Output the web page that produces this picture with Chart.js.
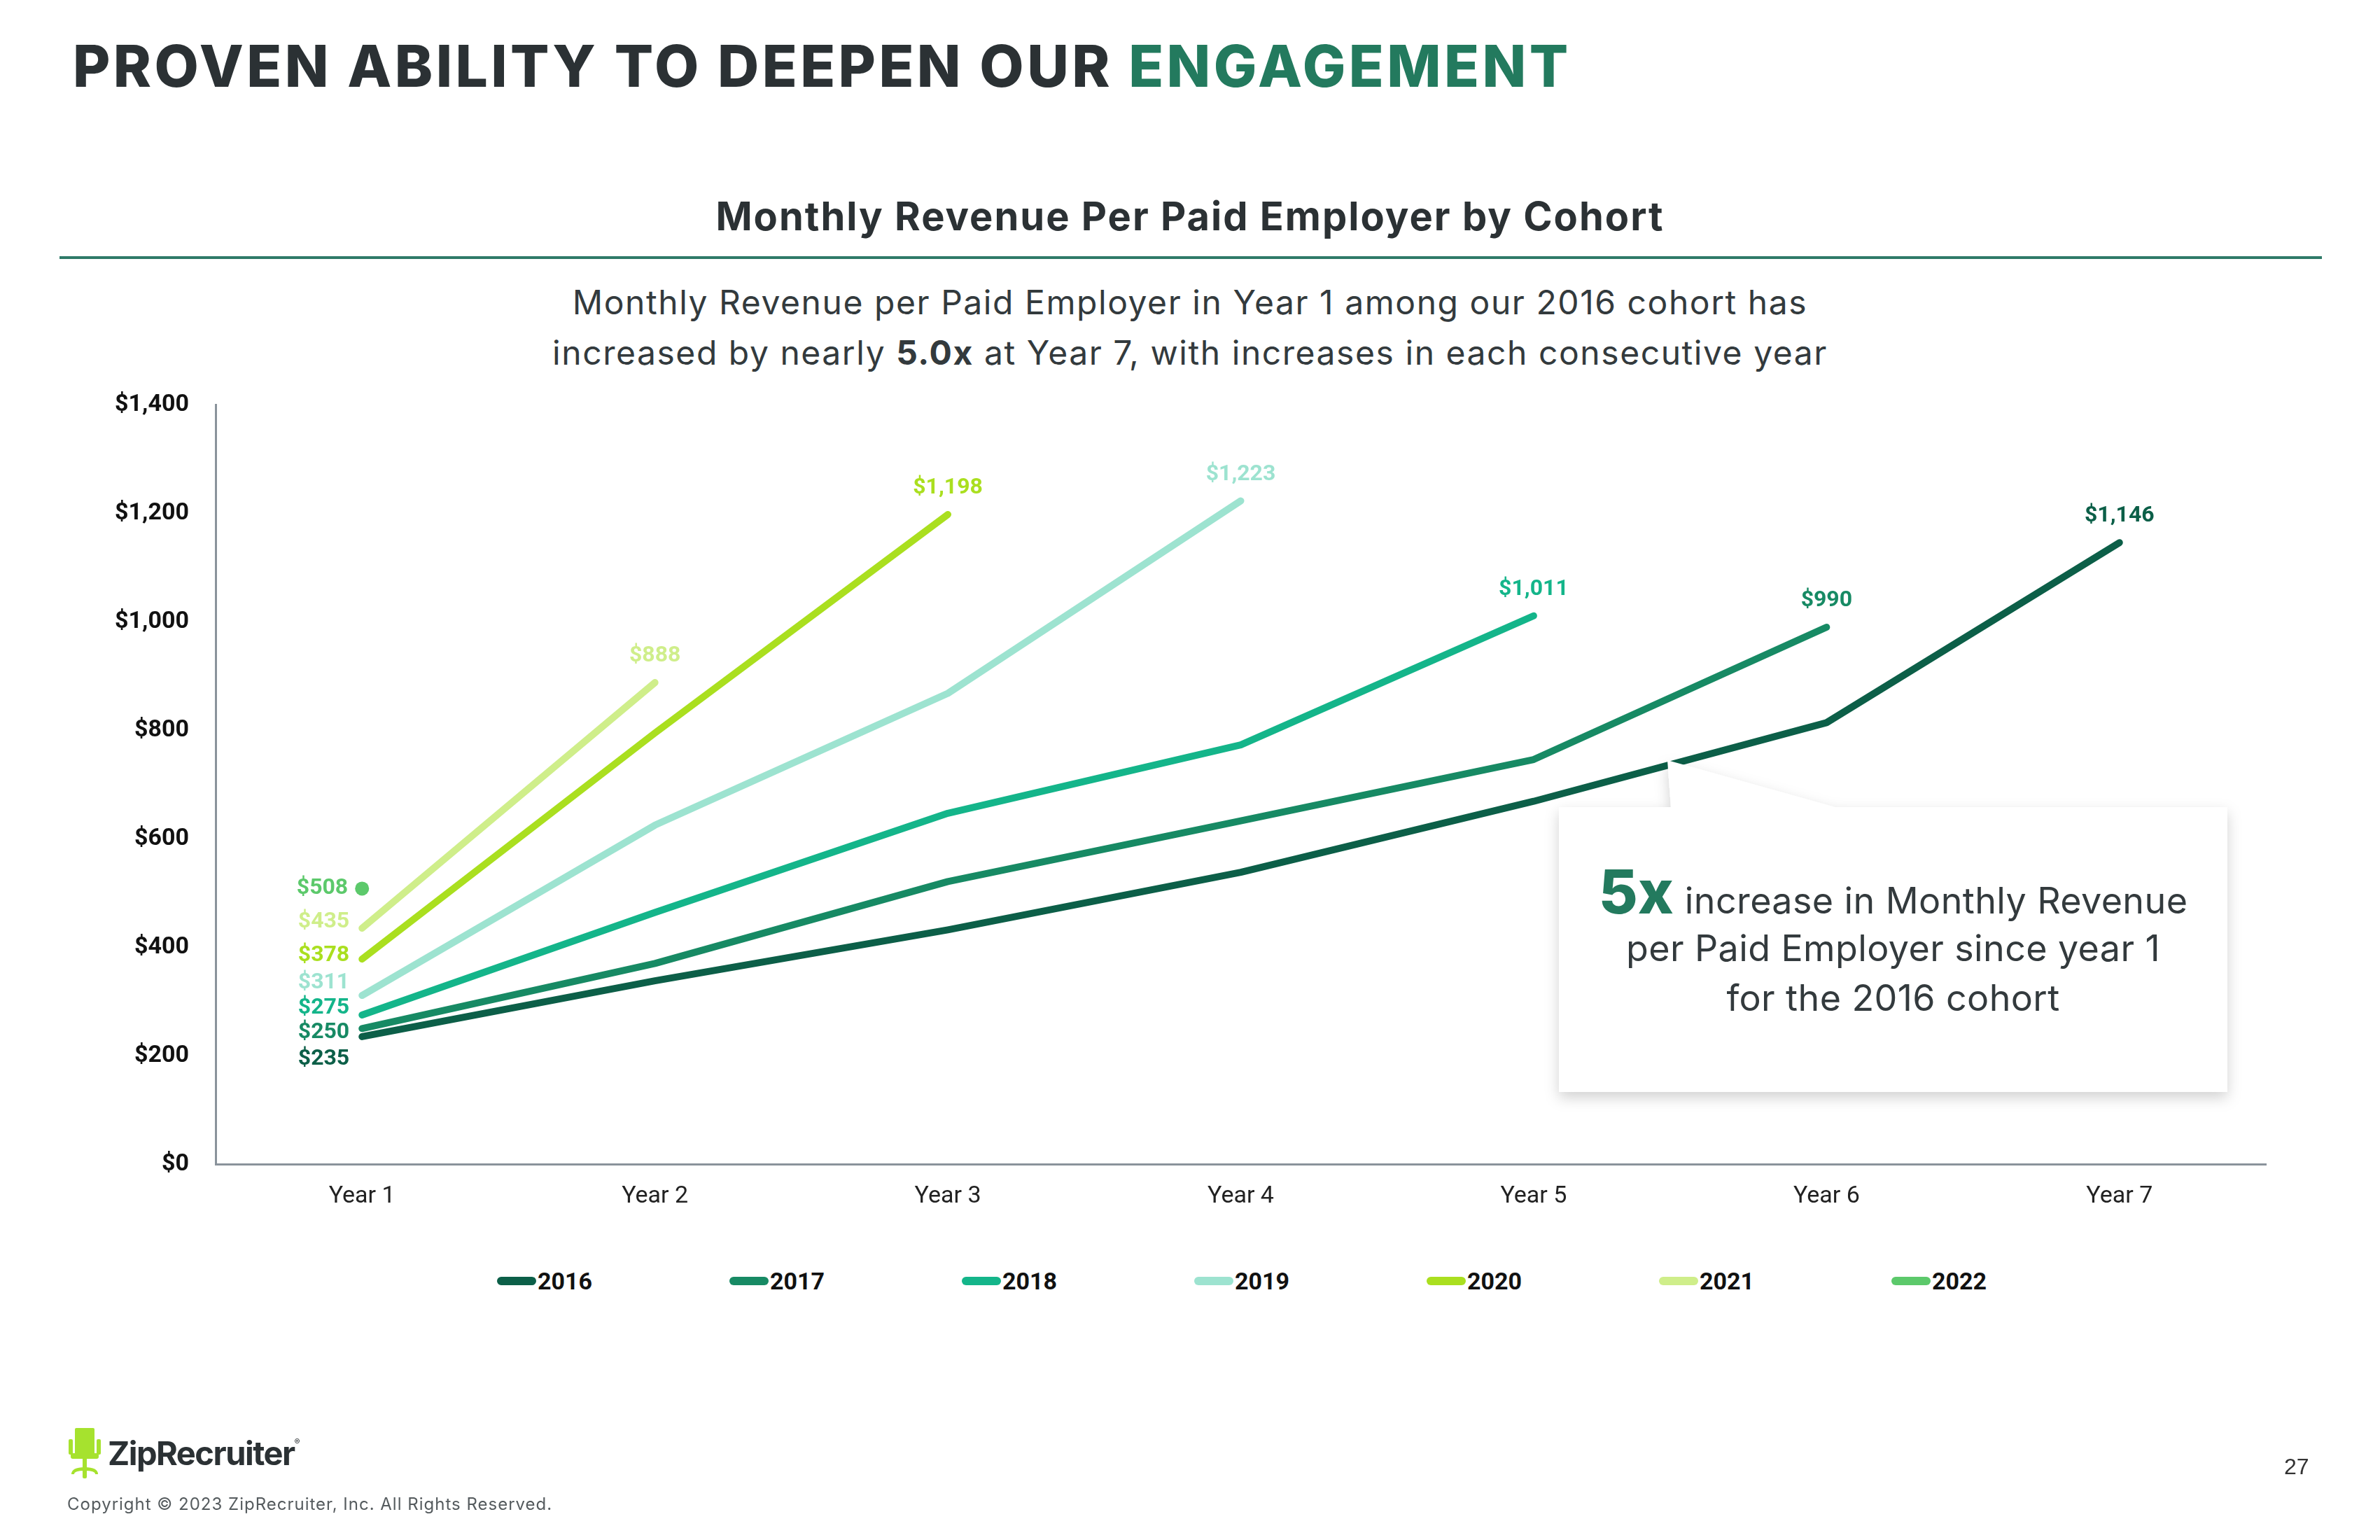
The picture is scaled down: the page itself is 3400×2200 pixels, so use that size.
<!DOCTYPE html>
<html>
<head>
<meta charset="utf-8">
<script src="https://cdn.jsdelivr.net/npm/chart.js@4.4.0/dist/chart.umd.min.js"></script>
<style>
html,body{margin:0;padding:0;background:#fff;}
body{width:3400px;height:2200px;position:relative;overflow:hidden;font-family:Inter,"Open Sans",sans-serif;color:#2b3134;}
.abs{position:absolute;white-space:nowrap;}
#title{left:104px;top:54px;font-size:82px;line-height:1;font-weight:800;color:#2b3134;letter-spacing:4.4px;}
#title span{color:#237a5e;}
#heading{left:0;width:3400px;text-align:center;top:281px;font-size:56px;line-height:1;font-weight:700;color:#2b3134;letter-spacing:2px;}
#rule{left:85px;top:366px;width:3232px;height:4px;background:#2e7a68;}
#sub{left:0;width:3400px;text-align:center;top:396px;font-size:48px;line-height:72px;font-weight:400;color:#333a3d;letter-spacing:1.55px;}
#sub b{font-weight:700;}
#chartWrap{left:100px;top:520px;width:3200px;height:1240px;}
#legend{left:710px;top:1810px;display:flex;}
.li{width:332px;display:flex;align-items:center;height:40px;}
.sw{width:56px;height:12px;border-radius:6px;margin-right:2px;}
.lt{font-family:Roboto,sans-serif;font-weight:700;font-size:34px;color:#111;}
#callout{left:0;top:0;width:3400px;height:2200px;pointer-events:none;}
.ct{left:2227px;width:955px;display:flex;justify-content:center;align-items:baseline;font-size:52px;line-height:1;color:#333a3d;font-weight:400;letter-spacing:0.4px;}
.ct .big{font-size:86px;font-weight:800;color:#237a5e;margin-right:16px;letter-spacing:0;}
#logo{left:98px;top:2040px;}
#logoText{left:154px;top:2052px;font-size:47px;line-height:1;font-weight:700;color:#2b3134;letter-spacing:-1.5px;}
#logoText sup{font-size:12px;font-weight:400;vertical-align:top;position:relative;top:2px;}
#copy{left:96px;top:2137px;font-size:24px;line-height:1;color:#555b5e;font-weight:400;letter-spacing:1px;}
#page{left:3263px;top:2079px;font-family:"Liberation Sans",Arial,sans-serif;font-size:32px;line-height:1;color:#333;}
</style>
</head>
<body>
<div id="title" class="abs">PROVEN ABILITY TO DEEPEN OUR <span>ENGAGEMENT</span></div>
<div id="heading" class="abs">Monthly Revenue Per Paid Employer by Cohort</div>
<div id="rule" class="abs"></div>
<div id="sub" class="abs">Monthly Revenue per Paid Employer in Year 1 among our 2016 cohort has<br>increased by nearly <b>5.0x</b> at Year 7, with increases in each consecutive year</div>

<div id="chartWrap" class="abs"><canvas id="c" width="3200" height="1240"></canvas></div>
<div id="legend" class="abs"></div>

<svg id="callout" class="abs" width="3400" height="2200" viewBox="0 0 3400 2200">
  <defs>
    <filter id="sh" x="-20%" y="-20%" width="140%" height="150%">
      <feDropShadow dx="0" dy="8" stdDeviation="10" flood-color="#000" flood-opacity="0.18"/>
    </filter>
  </defs>
  <path d="M2227,1153 L2387,1153 L2382,1086 L2621,1153 L3182,1153 L3182,1560 L2227,1560 Z" fill="#fff" filter="url(#sh)"/>
</svg>
<div class="abs ct" style="top:1231px;"><span class="big">5x</span><span>increase in Monthly Revenue</span></div>
<div class="abs ct" style="top:1329px;"><span>per Paid Employer since year 1</span></div>
<div class="abs ct" style="top:1400px;"><span>for the 2016 cohort</span></div>

<svg id="logo" class="abs" width="46" height="74" viewBox="0 0 46 74">
  <g fill="#a6e22e">
    <rect x="9" y="0" width="28" height="40" rx="2"/>
    <rect x="0" y="16" width="6" height="22" rx="2"/>
    <rect x="40" y="16" width="6" height="22" rx="2"/>
    <rect x="3" y="36" width="40" height="8" rx="3"/>
    <rect x="20" y="44" width="6" height="14"/>
    <path d="M4,66 Q4,56 23,56 Q42,56 42,66 L38,66 Q38,61 23,61 Q8,61 8,66 Z"/>
    <rect x="20" y="58" width="6" height="14" rx="2"/>
  </g>
</svg>
<div id="logoText" class="abs">ZipRecruiter<sup>®</sup></div>
<div id="copy" class="abs">Copyright © 2023 ZipRecruiter, Inc. All Rights Reserved.</div>
<div id="page" class="abs">27</div>

<script>
// ---- data ----
const years = ["Year 1","Year 2","Year 3","Year 4","Year 5","Year 6","Year 7"];
const cohorts = ["2016","2017","2018","2019","2020","2021","2022"];
const cohort2016 = [235, 338, 432, 538, 669, 814, 1146];
const cohort2017 = [250, 370, 521, 633, 746, 990];
const cohort2018 = [275, 464, 647, 773, 1011];
const cohort2019 = [311, 625, 868, 1223];
const cohort2020 = [378, 795, 1198];
const cohort2021 = [435, 888];
const cohort2022 = [508];
const yTicks = [0, 200, 400, 600, 800, 1000, 1200, 1400];

// ---- styles ----
const colors = ["#0c5f48","#178a64","#14b58a","#9de3d0","#aadf1f","#cfee8a","#5cc96b"];
const firstLabelNudge = [32, 6, -10, -18, -5, -9, 0];

const series = [cohort2016, cohort2017, cohort2018, cohort2019, cohort2020, cohort2021, cohort2022];
const fmt = v => "$" + v.toLocaleString("en-US");

const datasets = series.map((d, i) => ({
  label: cohorts[i],
  data: d,
  borderColor: colors[i],
  backgroundColor: colors[i],
  borderWidth: 10,
  borderCapStyle: "round",
  borderJoinStyle: "round",
  tension: 0,
  pointRadius: d.length === 1 ? 10 : 0,
  pointHoverRadius: d.length === 1 ? 10 : 0,
  pointBorderWidth: 0,
  fill: false
}));

const valueLabels = {
  id: "valueLabels",
  afterDatasetsDraw(chart) {
    const ctx = chart.ctx;
    ctx.save();
    ctx.font = "bold 32px Roboto";
    ctx.textBaseline = "middle";
    chart.data.datasets.forEach((ds, i) => {
      const pts = chart.getDatasetMeta(i).data;
      const n = ds.data.length;
      ctx.fillStyle = ds.borderColor;
      const p0 = pts[0];
      ctx.textAlign = "right";
      ctx.fillText(fmt(ds.data[0]), p0.x - (n === 1 ? 20 : 18), p0.y + firstLabelNudge[i]);
      if (n > 1) {
        const pl = pts[n - 1];
        ctx.textAlign = "center";
        ctx.fillText(fmt(ds.data[n - 1]), pl.x, pl.y - 38);
      }
    });
    ctx.restore();
  }
};

new Chart(document.getElementById("c"), {
  type: "line",
  data: { labels: years, datasets },
  options: {
    responsive: false,
    animation: false,
    devicePixelRatio: 1,
    layout: { padding: { top: 54, right: 63, bottom: 0, left: 0 } },
    plugins: { legend: { display: false }, tooltip: { enabled: false } },
    scales: {
      x: {
        offset: true,
        grid: { display: false, drawTicks: false },
        border: { display: true, color: "#8a939b", width: 3 },
        ticks: { padding: 26, color: "#222", font: { family: "Roboto", size: 34 } },
        afterFit: s => { s.height = 97; }
      },
      y: {
        min: 0, max: 1400,
        afterBuildTicks: s => { s.ticks = yTicks.map(v => ({ value: v })); },
        grid: { display: false, drawTicks: false },
        border: { display: true, color: "#8a939b", width: 3 },
        ticks: { padding: 38, color: "#111", font: { family: "Roboto", size: 34, weight: "bold" }, callback: v => fmt(v) },
        afterFit: s => { s.width = 208; }
      }
    }
  },
  plugins: [valueLabels]
});

// HTML legend built from the same arrays
const lg = document.getElementById("legend");
cohorts.forEach((c, i) => {
  const it = document.createElement("div"); it.className = "li";
  const sw = document.createElement("div"); sw.className = "sw"; sw.style.background = colors[i];
  const t = document.createElement("span"); t.className = "lt"; t.textContent = c;
  it.appendChild(sw); it.appendChild(t); lg.appendChild(it);
});
</script>
</body>
</html>
